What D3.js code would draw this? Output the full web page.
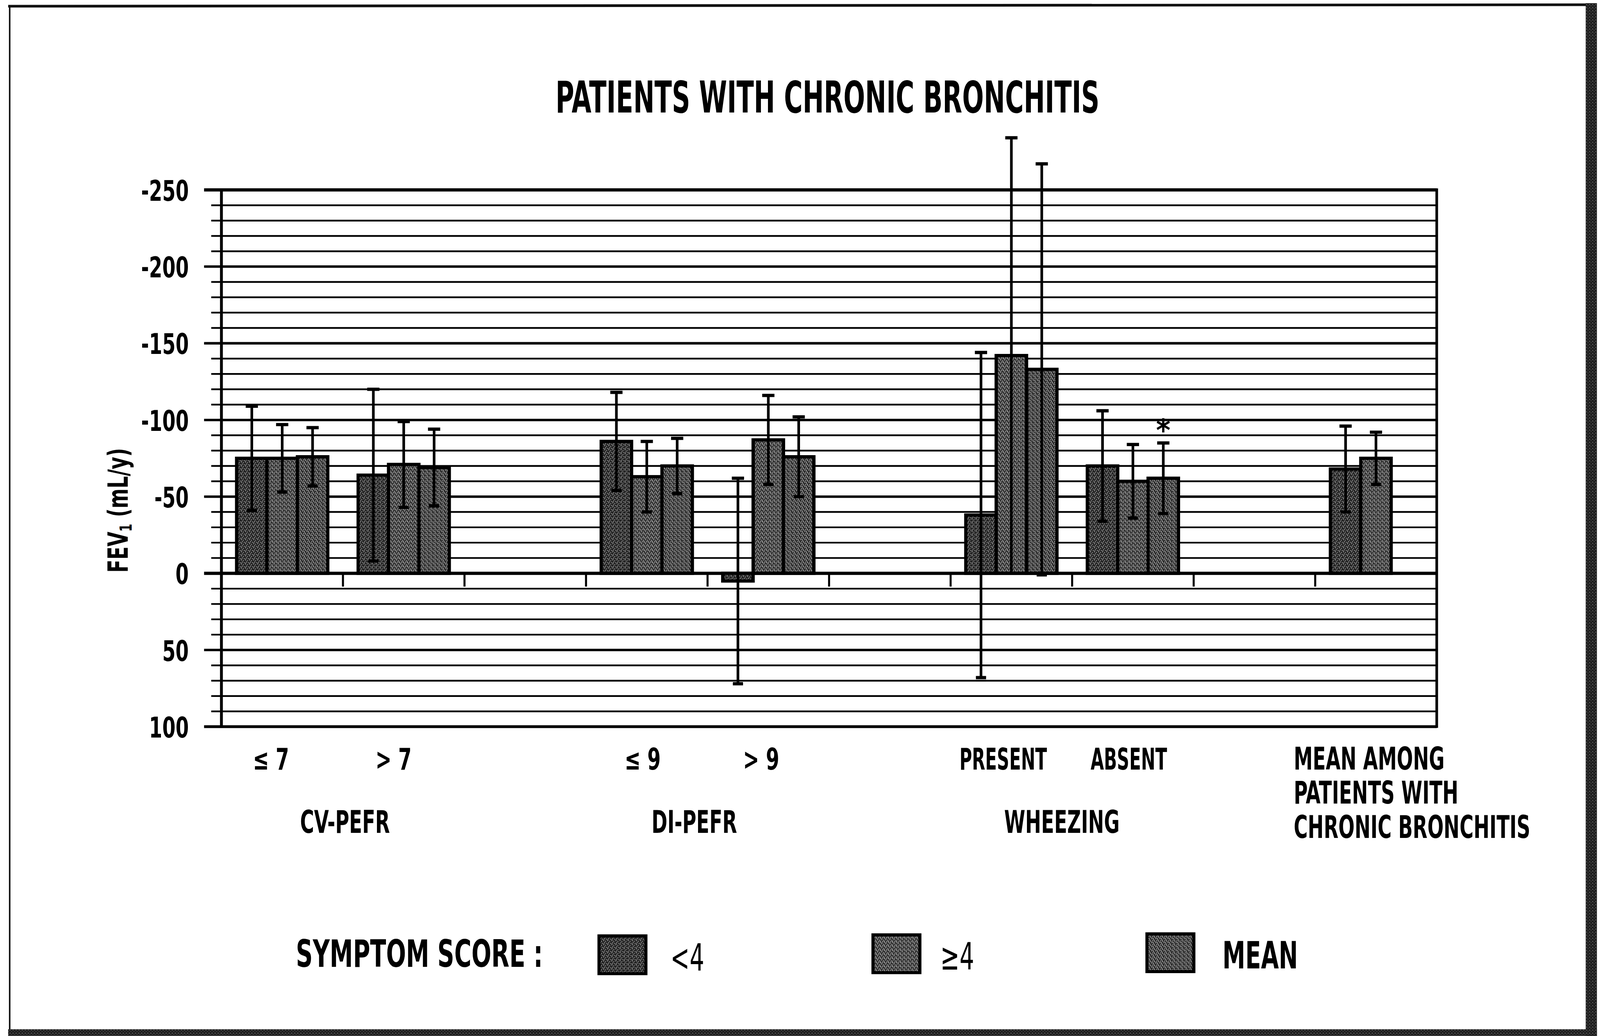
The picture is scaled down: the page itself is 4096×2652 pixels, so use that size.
<!DOCTYPE html>
<html><head><meta charset="utf-8">
<script src="https://cdn.jsdelivr.net/npm/d3@7"></script>
<style>html,body{margin:0;padding:0;background:#fff;overflow:hidden}</style>
</head><body>
<svg id="chart" width="4096" height="2652" viewBox="0 0 1568 1015"></svg>
<script>
// ---------------- data ----------------
const categories = ["≤ 7", "> 7", "", "≤ 9", "> 9", "", "PRESENT", "ABSENT", "", ""];
const meanLabelLines = ["MEAN AMONG", "PATIENTS WITH", "CHRONIC BRONCHITIS"];
const groupLabels = ["CV-PEFR", "DI-PEFR", "WHEEZING"];
const groupCats = [[0, 1], [3, 4], [6, 7]];
const seriesNames = ["<4", "≥4", "MEAN"];
const lowScore  = [-75, -64, null, -86,   5, null,  -38, -70, null, -68];
const highScore = [-75, -71, null, -63, -87, null, -142, -60, null, -75];
const meanScore = [-76, -69, null, -70, -76, null, -133, -62, null, null];
const lowErr  = [34, 56, null, 32, 67, null, 106, 36, null, 28];
const highErr = [22, 28, null, 23, 29, null, 142, 24, null, 17];
const meanErr = [19, 25, null, 18, 26, null, 134, 23, null, null];
const yTicks = [-250, -200, -150, -100, -50, 0, 50, 100];
const asterisks = [{cat: 7, series: 2, text: "*"}];
const titleText = "PATIENTS WITH CHRONIC BRONCHITIS";
const yTitle = ["FEV", "1", " (mL/y)"];
const legendTitle = "SYMPTOM SCORE :";

// ---------------- layout ----------------
const svg = d3.select("#chart");
const FONT = "'DejaVu Sans Condensed','DejaVu Sans',sans-serif";
function squeeze(sel, f) {
  sel.each(function () {
    const w = this.getComputedTextLength();
    d3.select(this).attr("textLength", w * f).attr("lengthAdjust", "spacingAndGlyphs");
  });
}
const W = 1568, H = 1015;
const plot = {left: 217, right: 1408, top: 186, bottom: 712};
const TITLE_W = 533;
const catNudge = [-11, -10, 0, -4, -7, 0, -8, -4, 0, 0];
const groupNudge = [2, -13, -10];

// patterns (stipple)
const defs = svg.append("defs");
const pat = [
  {id: "p0", base: "#222222", dot: "#c0c0c0"},
  {id: "p1", base: "#303030", dot: "#d0d0d0"},
  {id: "p2", base: "#272727", dot: "#c6c6c6"}
];
const dots = [[0.2,0.3],[2.1,0.9],[1.1,2.2],[3.0,2.9],[0.4,3.4],[2.7,2.0],[1.6,0.1]];
pat.forEach((p, i) => {
  const g = defs.append("pattern").attr("id", p.id).attr("patternUnits", "userSpaceOnUse")
    .attr("width", 4).attr("height", 4);
  g.append("rect").attr("width", 4).attr("height", 4).attr("fill", p.base);
  g.selectAll("rect.d").data(dots.slice(0, 5 + i)).join("rect").attr("class", "d")
    .attr("x", d => d[0]).attr("y", d => d[1]).attr("width", 0.8).attr("height", 0.8).attr("fill", p.dot);
});
const bandPat = defs.append("pattern").attr("id", "band").attr("patternUnits", "userSpaceOnUse")
  .attr("width", 3).attr("height", 3);
bandPat.append("rect").attr("width", 3).attr("height", 3).attr("fill", "#1e1e1e");
bandPat.append("rect").attr("x", 0.5).attr("y", 1).attr("width", 0.7).attr("height", 0.7).attr("fill", "#9a9a9a");
bandPat.append("rect").attr("x", 2).attr("y", 2.2).attr("width", 0.6).attr("height", 0.6).attr("fill", "#777");

svg.append("rect").attr("width", W).attr("height", H).attr("fill", "#fff");

// outer frame
svg.append("line").attr("x1", 8).attr("y1", 6).attr("x2", 1556).attr("y2", 4.5)
  .attr("stroke", "#111").attr("stroke-width", 2.6);
svg.append("line").attr("x1", 9.5).attr("y1", 5).attr("x2", 9.5).attr("y2", 1010)
  .attr("stroke", "#111").attr("stroke-width", 1.5);
svg.append("rect").attr("x", 1554).attr("y", 3).attr("width", 11).attr("height", 1012).attr("fill", "url(#band)");
svg.append("rect").attr("x", 8).attr("y", 1008.5).attr("width", 1557).attr("height", 6.5).attr("fill", "url(#band)");

// scales
const x = d3.scaleBand().domain(d3.range(categories.length)).range([plot.left, plot.right]).paddingInner(0).paddingOuter(0);
const xs = d3.scaleBand().domain(d3.range(seriesNames.length)).range([0, x.bandwidth()]).paddingInner(0).paddingOuter(0.5);
const y = d3.scaleLinear().domain([-250, 100]).range([plot.top, plot.bottom]);

// title first, to derive the condensing factor of the font
const tt = svg.append("text").attr("x", 811).attr("y", 110).attr("text-anchor", "middle")
  .attr("font-family", FONT).attr("font-weight", "bold").attr("font-size", 43).attr("fill", "#000").text(titleText);
const COND = TITLE_W / tt.node().getComputedTextLength();
squeeze(tt, COND);

// gridlines
const grid = d3.range(-250, 101, 10);
svg.append("g").selectAll("line").data(grid).join("line")
  .attr("x1", d => d % 50 === 0 ? 200 : 207).attr("x2", plot.right)
  .attr("y1", d => y(d)).attr("y2", d => y(d))
  .attr("stroke", "#000")
  .attr("stroke-width", d => (d === 0 || d === -250) ? 3.2 : (d === 100 ? 2.8 : (d % 50 === 0 ? 2.4 : 1.7)));

// left axis line and right frame
svg.append("line").attr("x1", plot.left).attr("x2", plot.left).attr("y1", plot.top).attr("y2", plot.bottom)
  .attr("stroke", "#000").attr("stroke-width", 2.8);
svg.append("line").attr("x1", plot.right).attr("x2", plot.right).attr("y1", plot.top - 1.5).attr("y2", plot.bottom + 1.2)
  .attr("stroke", "#000").attr("stroke-width", 2.6);

// category ticks below zero line
svg.append("g").selectAll("line").data(d3.range(1, categories.length)).join("line")
  .attr("x1", k => plot.left + k * x.step()).attr("x2", k => plot.left + k * x.step())
  .attr("y1", y(0)).attr("y2", y(0) + 13).attr("stroke", "#000").attr("stroke-width", 2);

// y axis labels
const yAxis = d3.axisLeft(y).tickValues(yTicks).tickSize(0).tickPadding(0).tickFormat(d => String(d));
const ya = svg.append("g").attr("transform", `translate(185,0)`).call(yAxis);
ya.select(".domain").remove();
const ytx = ya.selectAll("text").attr("font-family", FONT).attr("font-weight", "bold").attr("font-size", 28)
  .attr("fill", "#000").attr("dy", "0.36em").attr("x", 0);
squeeze(ytx, COND * 1.15);

// bars
const seriesVals = [lowScore, highScore, meanScore];
const seriesErr = [lowErr, highErr, meanErr];
const barData = [];
seriesVals.forEach((arr, s) => arr.forEach((v, c) => {
  if (v !== null) barData.push({c, s, v, e: seriesErr[s][c]});
}));
const bw = xs.bandwidth();
svg.append("g").selectAll("rect").data(barData).join("rect")
  .attr("x", d => x(d.c) + xs(d.s))
  .attr("width", bw)
  .attr("y", d => y(Math.min(0, d.v)))
  .attr("height", d => Math.abs(y(d.v) - y(0)))
  .attr("fill", d => `url(#p${d.s})`)
  .attr("stroke", "#000").attr("stroke-width", 3.2);

// error bars
const eg = svg.append("g").attr("stroke", "#000");
const cx = d => x(d.c) + xs(d.s) + bw / 2;
eg.selectAll("line.v").data(barData).join("line").attr("class", "v")
  .attr("x1", cx).attr("x2", cx)
  .attr("y1", d => y(d.v - d.e)).attr("y2", d => y(d.v + d.e)).attr("stroke-width", 2.6);
eg.selectAll("line.t").data(barData).join("line").attr("class", "t")
  .attr("x1", d => cx(d) - 6).attr("x2", d => cx(d) + 6)
  .attr("y1", d => y(d.v - d.e)).attr("y2", d => y(d.v - d.e)).attr("stroke-width", 3.2);
eg.selectAll("line.b").data(barData.filter(d => d.v + d.e !== 0)).join("line").attr("class", "b")
  .attr("x1", d => cx(d) - 5).attr("x2", d => cx(d) + 5)
  .attr("y1", d => y(d.v + d.e)).attr("y2", d => y(d.v + d.e)).attr("stroke-width", 3.2);

// asterisks
svg.append("g").selectAll("text").data(asterisks).join("text")
  .attr("x", d => x(d.cat) + xs(d.series) + bw / 2)
  .attr("y", d => y(seriesVals[d.series][d.cat] - seriesErr[d.series][d.cat]) - 2)
  .attr("text-anchor", "middle").attr("font-family", FONT).attr("font-weight", "bold")
  .attr("font-size", 30).attr("fill", "#000").text(d => d.text);

// y title
const yt = svg.append("text").attr("transform", "translate(125,500) rotate(-90)").attr("text-anchor", "middle")
  .attr("font-family", FONT).attr("font-weight", "bold").attr("font-size", 27).attr("fill", "#000");
yt.append("tspan").text(yTitle[0]);
yt.append("tspan").attr("font-size", 16).attr("dy", 4).text(yTitle[1]);
yt.append("tspan").attr("dy", -4).text(yTitle[2]);
squeeze(yt, COND * 1.2);

// category labels
const cl = svg.append("g").selectAll("text").data(categories.map((t, i) => ({t, i})).filter(d => d.t)).join("text")
  .attr("x", d => x(d.i) + x.bandwidth() / 2 + catNudge[d.i]).attr("y", 754).attr("text-anchor", "middle")
  .attr("font-family", FONT).attr("font-weight", "bold").attr("font-size", 29).attr("fill", "#000")
  .text(d => d.t);
cl.each(function (d) { squeeze(d3.select(this), d.t.length < 4 ? COND * 1.12 : COND); });

// group labels
const gl = svg.append("g").selectAll("text").data(groupLabels.map((t, i) => ({t, i}))).join("text")
  .attr("x", d => (x(groupCats[d.i][0]) + x(groupCats[d.i][1]) + x.bandwidth()) / 2 + groupNudge[d.i])
  .attr("y", 816).attr("text-anchor", "middle")
  .attr("font-family", FONT).attr("font-weight", "bold").attr("font-size", 31).attr("fill", "#000")
  .text(d => d.t);
squeeze(gl, COND * 1.04);

// mean label (last category) — condensed with a horizontal scale so its box stays true
const ml = svg.append("g").selectAll("text").data(meanLabelLines).join("text")
  .attr("transform", (d, i) => `translate(${x(9) - 21},${754 + i * 33.5}) scale(${COND * 1.04},1)`)
  .attr("x", 0).attr("y", 0)
  .attr("font-family", FONT).attr("font-weight", "bold").attr("font-size", 31).attr("fill", "#000")
  .text(d => d);

// legend
const lt = svg.append("text").attr("x", 290).attr("y", 947.5)
  .attr("font-family", FONT).attr("font-weight", "bold").attr("font-size", 37).attr("fill", "#000").text(legendTitle);
squeeze(lt, COND * 1.07);
const legX = d3.scaleLinear().domain([0, 2]).range([587, 1124]);
const lg = svg.append("g").selectAll("g").data(seriesNames.map((n, i) => ({n, i}))).join("g")
  .attr("transform", d => `translate(${legX(d.i)},${917 - d.i * 1})`);
lg.append("rect").attr("width", 46).attr("height", 37).attr("fill", d => `url(#p${d.i})`)
  .attr("stroke", "#000").attr("stroke-width", 3);
const ltx = lg.append("text").attr("x", d => d.i === 2 ? 74 : (d.i === 1 ? 66 : 70)).attr("y", 34)
  .attr("font-family", FONT).attr("font-weight", d => d.i === 2 ? "bold" : "normal")
  .attr("font-size", 37).attr("fill", "#000").text(d => d.n);
squeeze(ltx, COND * 1.05);
</script>
</body></html>
